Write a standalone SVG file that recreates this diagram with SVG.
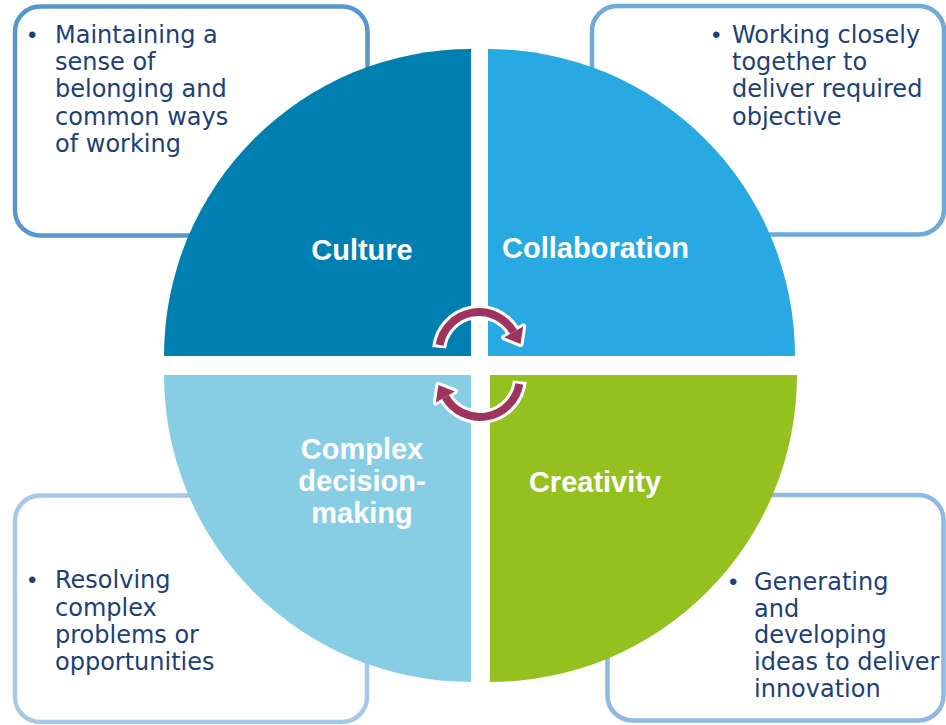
<svg xmlns="http://www.w3.org/2000/svg" width="946" height="725" viewBox="0 0 946 725">
<style>
.box{fill:#ffffff;stroke-width:4.5}
.body{font-family:"DejaVu Sans","Liberation Sans",sans-serif;font-size:24px;fill:#203F74}
.bul{font-family:"Liberation Sans",Arial,sans-serif;font-size:24px;fill:#203F74}
.lbl{font-family:"Liberation Sans",Arial,sans-serif;font-size:29px;font-weight:bold;fill:#ffffff;text-anchor:middle}
.aw{fill:none;stroke:#ffffff;stroke-width:14}
.awh{fill:#ffffff;stroke:#ffffff;stroke-width:6;stroke-linejoin:round}
.ad{fill:none;stroke:#9E335F;stroke-width:8}
.adh{fill:#9E335F}
</style>
<rect width="946" height="725" fill="#ffffff"/>
<g id="box-culture">
<rect class="box" x="15" y="6.5" width="352.5" height="229" rx="25" stroke="#5897C9"/>
<text class="bul" x="28" y="43">•</text>
<text class="body" x="55" y="43"><tspan x="55" y="43">Maintaining a</tspan><tspan x="55" y="70">sense of</tspan><tspan x="55" y="97">belonging and</tspan><tspan x="55" y="125">common ways</tspan><tspan x="55" y="152">of working</tspan></text>
</g>
<g id="box-collaboration">
<rect class="box" x="592" y="6" width="352" height="228.5" rx="25" stroke="#6EA9D7"/>
<text class="bul" x="712" y="43">•</text>
<text class="body"><tspan x="732" y="43">Working closely</tspan><tspan x="732" y="70">together to</tspan><tspan x="732" y="97">deliver required</tspan><tspan x="732" y="125">objective</tspan></text>
</g>
<g id="box-complex">
<rect class="box" x="15" y="495.5" width="352" height="226.5" rx="25" stroke="#A6C9E8"/>
<text class="bul" x="28" y="588">•</text>
<text class="body"><tspan x="55" y="588">Resolving</tspan><tspan x="55" y="616">complex</tspan><tspan x="55" y="643">problems or</tspan><tspan x="55" y="670">opportunities</tspan></text>
</g>
<g id="box-creativity">
<rect class="box" x="607.5" y="495" width="336" height="225.5" rx="25" stroke="#8DBAE0"/>
<text class="bul" x="729" y="590">•</text>
<text class="body"><tspan x="754" y="590">Generating</tspan><tspan x="754" y="617">and</tspan><tspan x="754" y="643">developing</tspan><tspan x="754" y="670">ideas to deliver</tspan><tspan x="754" y="697">innovation</tspan></text>
</g>
<g id="q-culture">
<path d="M471,356 L164,356 A307,307 0 0 1 471,49 Z" fill="#0080B1"/>
<text class="lbl" x="362" y="260">Culture</text>
</g>
<g id="q-collaboration">
<path d="M488,356 L488,49 A307,307 0 0 1 795,356 Z" fill="#29A9E1"/>
<text class="lbl" x="595.5" y="258">Collaboration</text>
</g>
<g id="q-complex">
<path d="M471,375 L471,682 A307,307 0 0 1 164,375 Z" fill="#87CEE5"/>
<text class="lbl"><tspan x="362" y="459">Complex</tspan><tspan x="362" y="491">decision-</tspan><tspan x="362" y="523">making</tspan></text>
</g>
<g id="q-creativity">
<path d="M490,375 L797,375 A307,307 0 0 1 490,682 Z" fill="#94C11F"/>
<text class="lbl" x="595" y="492">Creativity</text>
</g>
<g id="connectors">
<g id="arrow-top">
<path class="aw" d="M439.2,347.8 A40,40 0 0 1 513.6,332"/>
<polygon class="awh" points="523.2,326.5 520.6,344.1 504.1,337.5"/>
<path class="ad" d="M439.6,345 A40,40 0 0 1 513.6,332"/>
<polygon class="adh" points="523.2,326.5 520.6,344.1 504.1,337.5"/>
</g>
<g id="arrow-bottom" transform="rotate(180 479.5 364.5)">
<path class="aw" d="M439.2,347.8 A40,40 0 0 1 513.6,332"/>
<polygon class="awh" points="523.2,326.5 520.6,344.1 504.1,337.5"/>
<path class="ad" d="M439.6,345 A40,40 0 0 1 513.6,332"/>
<polygon class="adh" points="523.2,326.5 520.6,344.1 504.1,337.5"/>
</g>
</g>
</svg>
